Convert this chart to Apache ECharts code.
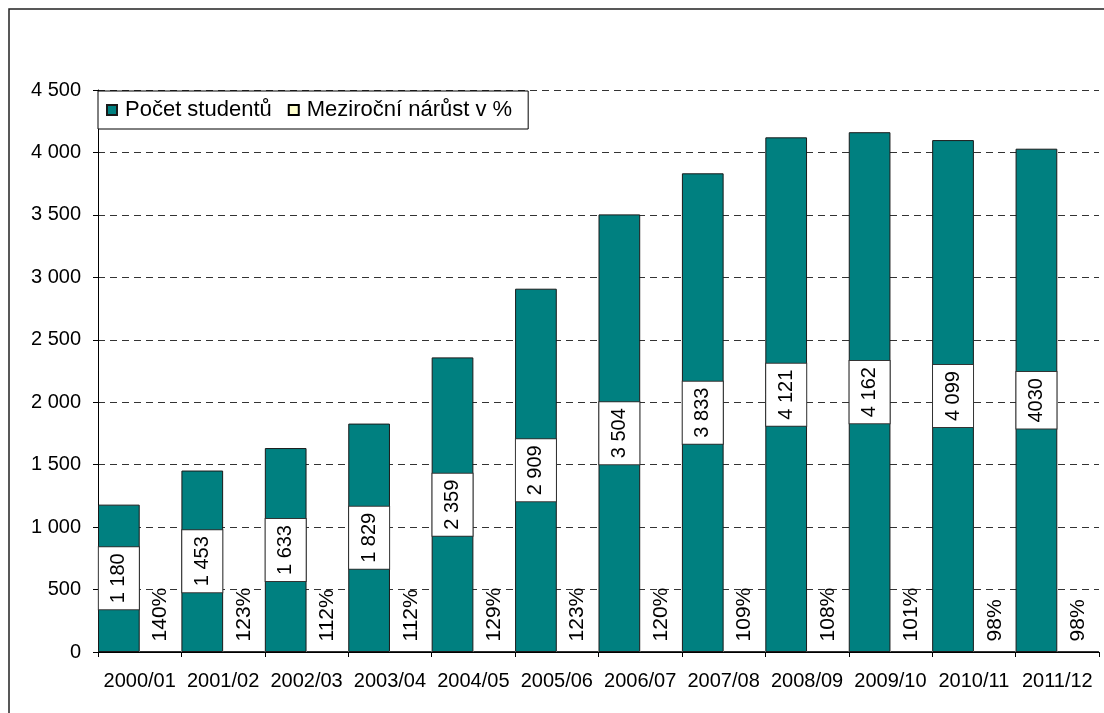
<!DOCTYPE html>
<html lang="cs">
    <head>
        <meta charset="utf-8">
        <title>Počet studentů</title>
        <script src="https://cdn.jsdelivr.net/npm/echarts@6.0.0/dist/echarts.min.js"></script>
        <style>
            body { margin: 0; background: #fff; }
        </style>
    </head>
    <body>
        <div id="main" style="width: 1104px;height: 713px;"></div>

        <script type="text/javascript">

            let years = ['2000/01', '2001/02', '2002/03', '2003/04', '2004/05', '2005/06',
                         '2006/07', '2007/08', '2008/09', '2009/10', '2010/11', '2011/12'];
            let students = [1180, 1453, 1633, 1829, 2359, 2909, 3504, 3833, 4121, 4162, 4099, 4030];
            let studentLabels = ['1 180', '1 453', '1 633', '1 829', '2 359', '2 909',
                                 '3 504', '3 833', '4 121', '4 162', '4 099', '4030'];
            // year-on-year growth as a ratio (1.40 = 140 %)
            let growth = [1.40, 1.23, 1.12, 1.12, 1.29, 1.23, 1.20, 1.09, 1.08, 1.01, 0.98, 0.98];
            let yTicks = [0, 500, 1000, 1500, 2000, 2500, 3000, 3500, 4000, 4500];

            const FONT = 'Liberation Sans, Arial, sans-serif';

            function spaced(v) {
                return String(v).replace(/\B(?=(\d{3})+(?!\d))/g, ' ');
            }

            let myChart = echarts.init(document.getElementById('main'));

            let options = {
                animation: false,
                textStyle: { fontFamily: FONT },
                graphic: [{
                    type: 'rect',
                    shape: { x: 9, y: 9, width: 1200, height: 800 },
                    style: { fill: 'none', stroke: '#222', lineWidth: 1.5 },
                    z: 100
                }],
                legend: {
                    left: 98, top: 91,
                    padding: [8, 16, 8, 8],
                    itemWidth: 10, itemHeight: 10, itemGap: 16,
                    backgroundColor: '#fff',
                    borderColor: '#000', borderWidth: 1,
                    textStyle: { fontSize: 22, color: '#000', fontFamily: FONT, padding: [0, 0, 0, 3] },
                    data: [
                        { name: 'Počet studentů', icon: 'rect' },
                        { name: 'Meziroční nárůst v %', icon: 'rect' }
                    ]
                },
                grid: { left: 98, right: 5, top: 90, bottom: 61, containLabel: false },
                xAxis: {
                    type: 'category',
                    data: years,
                    axisLine: { lineStyle: { color: '#000', width: 1 } },
                    axisTick: { show: true, length: 5, lineStyle: { color: '#000' } },
                    axisLabel: { color: '#000', fontSize: 20, margin: 19, interval: 0 }
                },
                yAxis: {
                    type: 'value',
                    min: yTicks[0], max: yTicks[yTicks.length - 1], interval: 500,
                    axisLine: { show: true, lineStyle: { color: '#000', width: 1 } },
                    axisTick: { show: true, length: 5, lineStyle: { color: '#000' } },
                    axisLabel: { color: '#000', fontSize: 20, margin: 17, formatter: spaced },
                    splitLine: { lineStyle: { color: '#333', type: [7, 5], width: 1 } }
                },
                series: [{
                    name: 'Počet studentů',
                    type: 'bar',
                    data: students,
                    barGap: '0%',
                    barCategoryGap: '0%',
                    itemStyle: { color: '#008080', borderColor: '#1a1a1a', borderWidth: 1 },
                    label: {
                        show: true,
                        position: 'inside',
                        rotate: 90,
                        formatter: p => studentLabels[p.dataIndex],
                        color: '#000',
                        fontSize: 20,
                        lineHeight: 22,
                        backgroundColor: '#fff',
                        borderColor: '#333',
                        borderWidth: 1,
                        padding: [9, 6, 9, 6]
                    }
                }, {
                    name: 'Meziroční nárůst v %',
                    type: 'bar',
                    data: growth,
                    itemStyle: { color: '#FFFFCC', borderColor: '#000', borderWidth: 1 },
                    label: {
                        show: true,
                        position: 'top',
                        rotate: 90,
                        align: 'left',
                        verticalAlign: 'middle',
                        distance: 10,
                        color: '#000',
                        fontSize: 21,
                        formatter: p => Math.round(p.value * 100) + '%'
                    }
                }]
            };

            myChart.setOption(options);
        </script>
    </body>
</html>
